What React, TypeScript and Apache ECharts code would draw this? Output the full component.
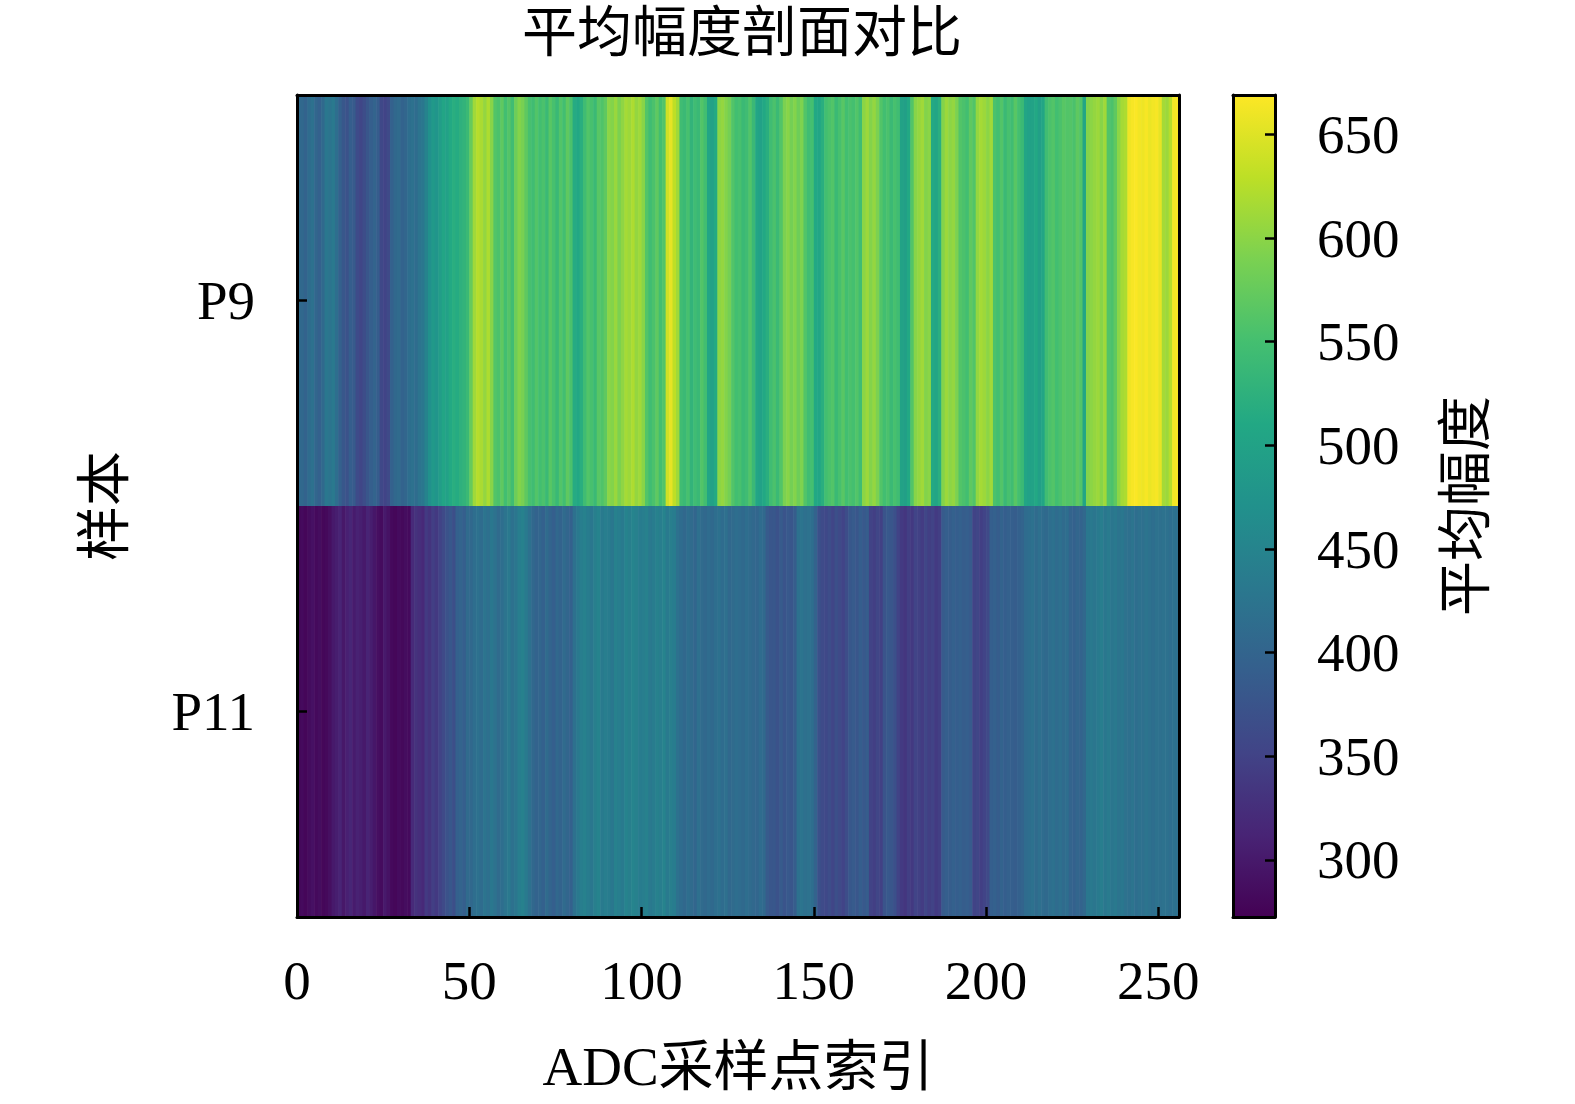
import { useEffect, useRef } from 'react';
import * as echarts from 'echarts';

// 样本名称（从上到下）
const samples = ['P9', 'P11'];

// 各采样点平均幅度（0..255）
const p9Values = [
  410, 405, 398, 412, 420, 402, 395, 408, 430, 425,
  432, 415, 395, 380, 372, 390, 385, 362, 355, 365,
  378, 392, 400, 388, 358, 352, 360, 395, 405, 410,
  398, 402, 415, 420, 412, 425, 430, 448, 470, 485,
  478, 492, 505, 498, 512, 520, 515, 525, 530, 540,
  575, 612, 625, 618, 605, 620, 598, 560, 555, 570,
  548, 562, 545, 580, 595, 588, 570, 552, 545, 560,
  548, 555, 540, 565, 552, 538, 560, 548, 570, 555,
  515, 508, 520, 545, 560, 552, 540, 565, 558, 570,
  600, 595, 608, 590, 602, 615, 610, 620, 605, 612,
  598, 560, 545, 555, 570, 548, 560, 640, 655, 630,
  612, 545, 540, 552, 530, 545, 538, 560, 548, 505,
  498, 512, 600, 605, 595, 585, 560, 548, 552, 540,
  545, 560, 538, 505, 498, 510, 520, 545, 555, 540,
  560, 590, 598, 585, 595, 580, 592, 560, 545, 550,
  510, 505, 520, 548, 555, 560, 540, 552, 565, 548,
  555, 550, 560, 545, 600, 610, 595, 605, 590, 560,
  548, 555, 540, 552, 545, 500, 495, 510, 560, 598,
  605, 612, 595, 600, 512, 505, 520, 595, 610, 600,
  605, 590, 560, 555, 548, 570, 560, 605, 615, 610,
  600, 612, 555, 548, 560, 540, 552, 545, 565, 550,
  540, 505, 498, 500, 510, 495, 505, 545, 555, 560,
  548, 555, 565, 560, 562, 555, 570, 560, 505, 595,
  600, 605, 610, 598, 612, 560, 555, 570, 600, 615,
  620, 660, 665, 668, 662, 660, 665, 658, 662, 665,
  655, 615, 610, 625, 662, 665
];

const p11Values = [
  280, 283, 278, 285, 290, 282, 286, 279, 281, 288,
  300, 305, 312, 298, 308, 315, 302, 310, 306, 300,
  312, 305, 296, 288, 284, 300, 292, 282, 279, 284,
  281, 286, 283, 320, 330, 325, 318, 340, 332, 345,
  338, 350, 360, 372, 380, 368, 395, 400, 392, 410,
  405, 415, 420, 412, 425, 418, 430, 422, 410, 415,
  425, 432, 420, 428, 440, 445, 435, 420, 405, 398,
  402, 395, 410, 400, 392, 405, 398, 410, 402, 395,
  420, 432, 440, 445, 438, 430, 442, 448, 435, 440,
  438, 430, 445, 440, 435, 448, 442, 450, 445, 438,
  440, 446, 432, 438, 445, 440, 448, 435, 442, 438,
  420, 412, 405, 415, 410, 402, 418, 410, 405, 412,
  408, 415, 420, 412, 418, 405, 410, 415, 412, 408,
  415, 410, 405, 402, 412, 408, 385, 378, 380, 372,
  385, 375, 382, 378, 388, 420, 425, 418, 422, 415,
  398, 370, 362, 358, 365, 355, 368, 360, 352, 365,
  380, 385, 378, 390, 382, 388, 350, 345, 355, 348,
  375, 382, 378, 370, 350, 340, 335, 345, 338, 352,
  348, 342, 355, 345, 350, 340, 345, 385, 392, 388,
  395, 390, 395, 388, 392, 385, 350, 355, 345, 352,
  360, 392, 395, 388, 398, 390, 395, 392, 388, 395,
  400, 412, 415, 420, 410, 418, 412, 408, 415, 420,
  412, 418, 410, 415, 400, 395, 402, 398, 405, 430,
  432, 428, 435, 440, 430, 436, 428, 432, 425, 430,
  422, 418, 425, 415, 420, 418, 424, 420, 416, 422,
  418, 422, 420, 415, 420, 418
];

// 刻度
const xTicks = [0, 50, 100, 150, 200, 250];
const cbTicks = [300, 350, 400, 450, 500, 550, 600, 650];
const cbMin = 272.5;
const cbMax = 669;

const viridis = [
  '#440154', '#482475', '#414487', '#355f8d', '#2a788e', '#21918c',
  '#22a884', '#44bf70', '#7ad151', '#bddf26', '#fde725'
];

const FONT = "'Liberation Serif', 'DejaVu Serif', 'Noto Sans CJK SC', serif";

export default function App() {
  const chartRef = useRef<HTMLDivElement>(null);

  useEffect(() => {
    document.body.style.margin = '0';
    document.body.style.overflow = 'hidden';
    document.documentElement.style.overflow = 'hidden';
    if (!chartRef.current) return;
    const chart = echarts.init(chartRef.current, null, { renderer: 'svg' });

    const heatData: number[][] = [];
    [p9Values, p11Values].forEach((row, r) => {
      row.forEach((v, i) => heatData.push([i, r, v]));
    });

    const option = {
      animation: false,
      backgroundColor: '#fff',
      textStyle: { fontFamily: FONT, color: '#000' },
      title: {
        text: '平均幅度剖面对比',
        left: 737,
        top: 0,
        textAlign: 'center',
        textStyle: { fontFamily: FONT, fontSize: 55, fontWeight: 'normal', color: '#000' }
      },
      grid: [
        { left: 297, top: 95, width: 882, height: 822 },
        { left: 1233, top: 95, width: 42, height: 822 }
      ],
      visualMap: {
        type: 'continuous',
        show: false,
        min: cbMin,
        max: cbMax,
        dimension: 2,
        seriesIndex: 0,
        inRange: { color: viridis }
      },
      xAxis: [
        {
          gridIndex: 0,
          type: 'value',
          min: 0,
          max: 256,
          z: 10,
          name: 'ADC采样点索引',
          nameLocation: 'middle',
          nameGap: 122,
          nameTextStyle: { fontFamily: FONT, fontSize: 55, color: '#000' },
          axisLine: { show: true, lineStyle: { color: '#000', width: 3 } },
          axisTick: { show: true, inside: true, length: 10, customValues: xTicks, lineStyle: { color: '#000', width: 2.5 } },
          axisLabel: { customValues: xTicks, margin: 36, fontFamily: FONT, fontSize: 55, color: '#000' },
          splitLine: { show: false }
        },
        {
          gridIndex: 0,
          type: 'value',
          position: 'top',
          min: 0,
          max: 256,
          z: 10,
          axisLine: { show: true, lineStyle: { color: '#000', width: 3 } },
          axisTick: { show: false },
          axisLabel: { show: false },
          splitLine: { show: false }
        },
        {
          gridIndex: 1,
          type: 'value',
          min: 0,
          max: 1,
          z: 10,
          axisLine: { show: true, onZero: false, lineStyle: { color: '#000', width: 3 } },
          axisTick: { show: false },
          axisLabel: { show: false },
          splitLine: { show: false }
        },
        {
          gridIndex: 1,
          type: 'value',
          position: 'top',
          min: 0,
          max: 1,
          z: 10,
          axisLine: { show: true, onZero: false, lineStyle: { color: '#000', width: 3 } },
          axisTick: { show: false },
          axisLabel: { show: false },
          splitLine: { show: false }
        }
      ],
      yAxis: [
        {
          gridIndex: 0,
          type: 'category',
          data: samples,
          inverse: true,
          z: 10,
          name: '样本',
          nameLocation: 'middle',
          nameRotate: 90,
          nameGap: 165,
          nameTextStyle: { fontFamily: FONT, fontSize: 55, color: '#000' },
          axisLine: { show: true, lineStyle: { color: '#000', width: 3 } },
          axisTick: { show: true, inside: true, length: 10, alignWithLabel: true, lineStyle: { color: '#000', width: 2.5 } },
          axisLabel: { margin: 42, fontFamily: FONT, fontSize: 55, color: '#000' },
          splitLine: { show: false }
        },
        {
          gridIndex: 0,
          type: 'value',
          position: 'right',
          min: 0,
          max: 1,
          z: 10,
          axisLine: { show: true, onZero: false, lineStyle: { color: '#000', width: 3 } },
          axisTick: { show: false },
          axisLabel: { show: false },
          splitLine: { show: false }
        },
        {
          gridIndex: 1,
          type: 'value',
          position: 'right',
          min: cbMin,
          max: cbMax,
          z: 10,
          name: '平均幅度',
          nameLocation: 'middle',
          nameRotate: 90,
          nameGap: 163,
          nameTextStyle: { fontFamily: FONT, fontSize: 55, color: '#000' },
          axisLine: { show: true, onZero: false, lineStyle: { color: '#000', width: 3 } },
          axisTick: { show: true, inside: true, length: 10, customValues: cbTicks, lineStyle: { color: '#000', width: 2.5 } },
          axisLabel: { customValues: cbTicks, margin: 42, fontFamily: FONT, fontSize: 55, color: '#000' },
          splitLine: { show: false }
        },
        {
          gridIndex: 1,
          type: 'value',
          position: 'left',
          min: cbMin,
          max: cbMax,
          z: 10,
          axisLine: { show: true, onZero: false, lineStyle: { color: '#000', width: 3 } },
          axisTick: { show: false },
          axisLabel: { show: false },
          splitLine: { show: false }
        }
      ],
      series: [
        {
          type: 'custom',
          xAxisIndex: 0,
          yAxisIndex: 0,
          data: heatData,
          encode: { x: 0, y: 1 },
          renderItem: (params: any, api: any) => {
            const x = api.value(0);
            const y = api.value(1);
            const start = api.coord([x, y]);
            const end = api.coord([x + 1, y]);
            const h = api.size([1, 1])[1];
            return {
              type: 'rect',
              shape: { x: start[0], y: start[1] - h / 2, width: end[0] - start[0] + 0.6, height: h },
              style: { fill: api.visual('color') }
            };
          }
        },
        {
          type: 'custom',
          xAxisIndex: 2,
          yAxisIndex: 2,
          data: [[0, cbMin, cbMax]],
          encode: { x: 0, y: [1, 2] },
          renderItem: (params: any, api: any) => {
            const p0 = api.coord([0, api.value(1)]);
            const p1 = api.coord([1, api.value(2)]);
            return {
              type: 'rect',
              shape: { x: p0[0], y: p1[1], width: p1[0] - p0[0], height: p0[1] - p1[1] },
              style: {
                fill: new echarts.graphic.LinearGradient(0, 1, 0, 0,
                  viridis.map((c, i) => ({ offset: i / (viridis.length - 1), color: c })))
              }
            };
          }
        }
      ]
    };

    chart.setOption(option as any);
    return () => chart.dispose();
  }, []);

  return <div ref={chartRef} style={{ width: 1575, height: 1104 }} />;
}
